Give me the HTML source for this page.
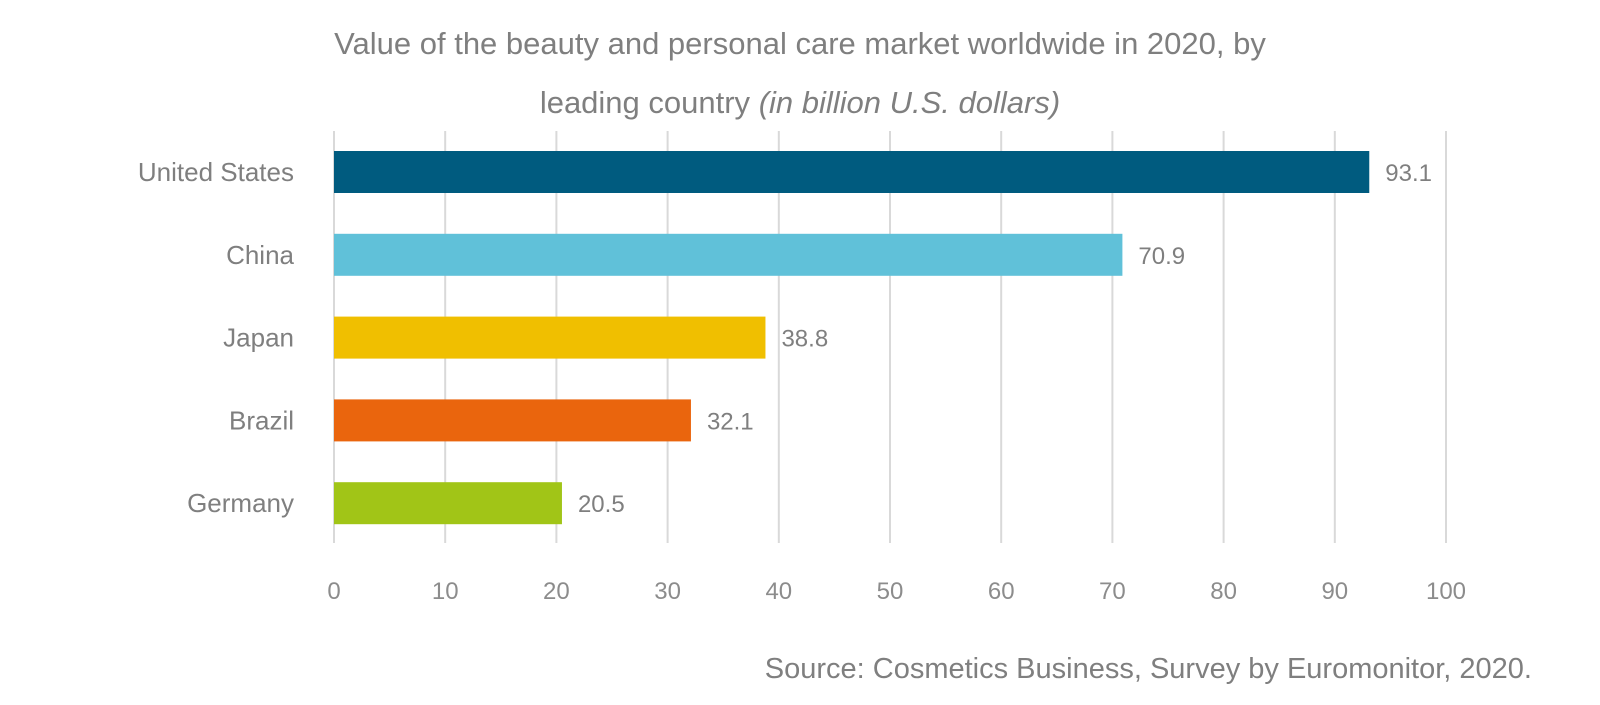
<!DOCTYPE html>
<html><head><meta charset="utf-8"><style>
html,body{margin:0;padding:0;background:#fff;}
body{width:1600px;height:700px;overflow:hidden;font-family:"Liberation Sans",sans-serif;}
</style></head><body>
<svg width="1600" height="700" xmlns="http://www.w3.org/2000/svg">
<text x="800" y="54" text-anchor="middle" font-size="31" fill="#7f7f7f">Value of the beauty and personal care market worldwide in 2020, by</text>
<text x="800" y="113" text-anchor="middle" font-size="31" fill="#7f7f7f">leading country <tspan font-style="italic">(in billion U.S. dollars)</tspan></text>
<g id="grid"></g>
<g id="bars"></g>
<g id="ticks"></g>
<text x="1532" y="678" text-anchor="end" font-size="29" fill="#7f7f7f">Source: Cosmetics Business, Survey by Euromonitor, 2020.</text>
</svg>
<script>
const categories = ["United States","China","Japan","Brazil","Germany"];
const values = [93.1,70.9,38.8,32.1,20.5];
const valueLabels = ["93.1","70.9","38.8","32.1","20.5"];
const colors = ["#005b7f","#60c1d9","#f0bf00","#ea650d","#a1c517"];
const tickValues = [0,10,20,30,40,50,60,70,80,90,100];
const NS="http://www.w3.org/2000/svg";
const x0=334, x1=1446, xmax=100;
const xs=v=>x0+(v/xmax)*(x1-x0);
const top0=151, step=82.8, bh=42;
const ys=i=>top0+i*step;
const grid=document.getElementById('grid'), bars=document.getElementById('bars'), ticks=document.getElementById('ticks');
function mk(tag,attrs){const e=document.createElementNS(NS,tag);for(const k in attrs)e.setAttribute(k,attrs[k]);return e;}
tickValues.forEach(t=>{
  const l=mk('line',{x1:xs(t),x2:xs(t),y1:131,y2:543,stroke:'#d9d9d9','stroke-width':2});
  
  
  grid.appendChild(l);
  const tx=mk('text',{x:xs(t),y:599,'text-anchor':'middle','font-size':24,fill:'#8c8c8c'});
  tx.textContent=t;
  
  
  ticks.appendChild(tx);
});
categories.forEach((c,i)=>{
  const r=mk('rect',{x:x0,y:ys(i),width:xs(values[i])-x0,height:bh,fill:colors[i]});
  
  
  bars.appendChild(r);
  const vl=mk('text',{x:xs(values[i])+16,y:ys(i)+bh/2+9,'font-size':24,fill:'#7f7f7f'});
  vl.textContent=valueLabels[i];
  
  
  bars.appendChild(vl);
  const cl=mk('text',{x:294,y:ys(i)+bh/2+9,'text-anchor':'end','font-size':26,fill:'#7f7f7f'});
  cl.textContent=c;
  
  
  bars.appendChild(cl);
});
</script>
</body></html>
